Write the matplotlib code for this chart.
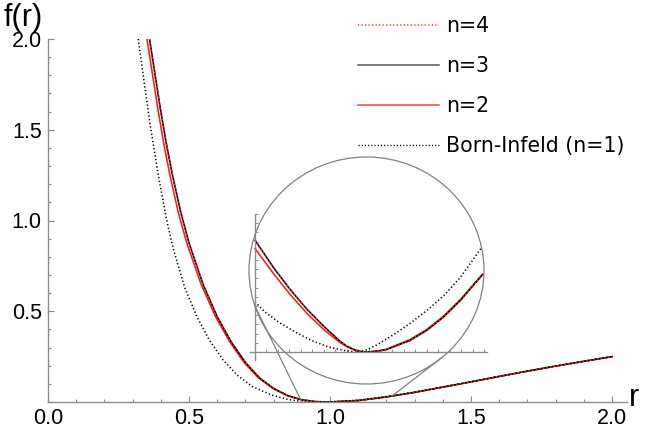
import numpy as np
import matplotlib.pyplot as plt
from matplotlib.patches import Ellipse, ConnectionPatch
from matplotlib.ticker import MultipleLocator

# main curves
r_bi = [0.320, 0.342, 0.362, 0.391, 0.421, 0.445, 0.485, 0.528, 0.572, 0.620, 0.670,
        0.725, 0.790, 0.850, 0.900, 0.960, 1.000, 1.100, 1.200, 1.300, 1.400, 1.500,
        1.600, 1.700, 1.800, 1.900, 2.000]
f_bi = [2.00, 1.75, 1.53, 1.25, 1.00, 0.84, 0.63, 0.47, 0.341, 0.233, 0.149,
        0.085, 0.040, 0.014, 0.003, 0.0, 0.001, 0.010, 0.030, 0.055, 0.083, 0.112,
        0.141, 0.170, 0.198, 0.225, 0.250]

r_n2 = [0.351, 0.371, 0.391, 0.411, 0.431, 0.461, 0.492, 0.543, 0.594, 0.645, 0.695,
        0.746, 0.797, 0.848, 0.899, 0.950, 1.000, 1.100, 1.200, 1.300, 1.400, 1.500,
        1.600, 1.700, 1.800, 1.900, 2.000]
f_n2 = [2.00, 1.80, 1.60, 1.42, 1.26, 1.05, 0.876, 0.648, 0.470, 0.330, 0.218,
        0.133, 0.075, 0.035, 0.012, 0.002, 0.0, 0.008, 0.028, 0.053, 0.082, 0.111,
        0.141, 0.170, 0.198, 0.224, 0.250]

r_n3 = [0.360, 0.380, 0.400, 0.420, 0.440, 0.470, 0.500, 0.550, 0.600, 0.650, 0.700,
        0.750, 0.800, 0.850, 0.900, 0.950, 1.000, 1.100, 1.200, 1.300, 1.400, 1.500,
        1.600, 1.700, 1.800, 1.900, 2.000]
f_n3 = [2.00, 1.80, 1.60, 1.42, 1.26, 1.05, 0.876, 0.648, 0.470, 0.330, 0.218,
        0.133, 0.075, 0.035, 0.012, 0.002, 0.0, 0.008, 0.028, 0.053, 0.082, 0.111,
        0.141, 0.170, 0.198, 0.224, 0.250]

# n=4 lies on top of n=3 at this scale
r_n4 = r_n3
f_n4 = f_n3

# magnified view around the minimum
zr_bi = [0.850, 0.863, 0.881, 0.902, 0.924, 0.946, 0.968, 0.981, 0.994, 1.009,
         1.031, 1.053, 1.075, 1.097, 1.119, 1.146]
zf_bi = [0.0109, 0.0087, 0.0065, 0.0044, 0.0025, 0.0011, 0.0003, 0.0, 0.0003, 0.0015,
         0.0037, 0.0062, 0.0090, 0.0122, 0.0162, 0.0225]

zr_n2 = [0.850, 0.874, 0.896, 0.918, 0.940, 0.961, 0.970, 0.979, 0.985, 0.992, 1.001,
         1.014, 1.022, 1.031, 1.053, 1.075, 1.097, 1.119, 1.148]
zf_n2 = [0.0225, 0.0171, 0.0125, 0.0084, 0.0049, 0.0021, 0.0012, 0.0005, 0.0002, 0.0,
         0.00005, 0.0003, 0.0006, 0.0012, 0.0027, 0.0049, 0.0078, 0.0114, 0.0169]

zr_n3 = [0.850, 0.874, 0.896, 0.918, 0.940, 0.961, 0.970, 0.979, 0.985, 0.992, 1.001,
         1.014, 1.022, 1.031, 1.053, 1.075, 1.097, 1.119, 1.148]
zf_n3 = [0.0243, 0.0184, 0.0136, 0.0093, 0.0056, 0.0024, 0.0013, 0.0006, 0.0002, 0.0,
         0.00004, 0.0003, 0.0005, 0.0011, 0.0025, 0.0047, 0.0076, 0.0112, 0.0168]

labels = ["n=4", "n=3", "n=2", "Born-Infeld (n=1)"]

W, H = 649, 437
fig = plt.figure(figsize=(W / 100, H / 100), dpi=100)
ax = fig.add_axes([48 / W, (H - 402) / H, (627 - 48) / W, (402 - 39) / H])

dot = (0.8, 1.5)
axis_col = '#8c8c8c'

ax.plot(r_bi, f_bi, color='black', lw=1.15, dashes=dot)
ax.plot(r_n2, f_n2, color='#ff1a1a', lw=1.15)
ax.plot(r_n3, f_n3, color='black', lw=1.15)
ax.plot(r_n4, f_n4, color='#ff3030', lw=1.15, dashes=dot)

ax.set_xlim(0, 2.053)
ax.set_ylim(0, 2.0)
for s in ['top', 'right']:
    ax.spines[s].set_visible(False)
for s in ['left', 'bottom']:
    ax.spines[s].set_color(axis_col)
    ax.spines[s].set_linewidth(1.0)
ax.set_xticks([0, 0.5, 1.0, 1.5, 2.0])
ax.set_yticks([0.5, 1.0, 1.5, 2.0])
ax.set_xticklabels(['0.0', '0.5', '1.0', '1.5', '2.0'])
ax.set_yticklabels(['0.5', '1.0', '1.5', '2.0'])
ax.xaxis.set_minor_locator(MultipleLocator(0.1))
ax.yaxis.set_minor_locator(MultipleLocator(0.1))
ax.tick_params(which='both', direction='in', color=axis_col, width=0.8)
ax.tick_params(which='major', length=4.5, pad=4.5, labelsize=15.5)
ax.tick_params(which='minor', length=2.5)
for lab in ax.get_xticklabels() + ax.get_yticklabels():
    lab.set_family('Liberation Sans')

fig.text(23 / W, 1 - 18 / H, 'f(r)', ha='center', va='center', fontsize=22, family='Liberation Sans')
fig.text(634 / W, 1 - 398 / H, 'r', ha='center', va='center', fontsize=22, family='Liberation Sans')

# legend
h4, = ax.plot([], [], color='#ff3030', lw=1.1, dashes=dot)
h3, = ax.plot([], [], color='#555555', lw=1.1)
h2, = ax.plot([], [], color='#ff4040', lw=1.1)
h1, = ax.plot([], [], color='black', lw=1.0, dashes=dot)
fig.legend([h4, h3, h2, h1], labels, loc='upper left', bbox_to_anchor=(358 / W, 1 - 16 / H),
           frameon=False, handlelength=3.93, handletextpad=0.34, borderaxespad=0,
           labelspacing=0.98, borderpad=0, prop={'family': 'DejaVu Sans', 'size': 14.8})

# magnifier circle
cx, cy, a, b = 3.665, (H - 270.5) / 100, 1.175, 1.135
fig.add_artist(Ellipse((cx, cy), 2 * a, 2 * b, transform=fig.dpi_scale_trans,
                       fill=False, ec='#808080', lw=0.9))

# inset axes
z0 = 0.85
sx, sy = 763.3, 4600.0
axz = fig.add_axes([250 / W, (H - 360) / H, 237 / W, 146 / H])
axz.patch.set_visible(False)
axz.plot(zr_bi, zf_bi, color='black', lw=1.15, dashes=dot)
axz.plot(zr_n2, zf_n2, color='#ff1a1a', lw=1.15)
axz.plot(zr_n3, zf_n3, color='black', lw=1.15)
axz.plot(zr_n3, zf_n3, color='#ff3030', lw=1.15, dashes=dot)
axz.set_xlim(z0 - 5 / sx, z0 + 232 / sx)
axz.set_ylim(-8 / sy, 138 / sy)
for s in ['top', 'right']:
    axz.spines[s].set_visible(False)
axz.spines['left'].set_position(('data', z0))
axz.spines['bottom'].set_position(('data', 0))
for s in ['left', 'bottom']:
    axz.spines[s].set_color(axis_col)
    axz.spines[s].set_linewidth(1.0)
axz.set_xticks(np.arange(21) * 0.015 + z0)
axz.set_yticks(np.arange(16) * 0.002)
axz.tick_params(direction='in', length=2.5, color=axis_col, width=0.7,
                labelbottom=False, labelleft=False)

# connector lines
for (px, py), t in [((0.90, 0.0), 198), ((1.22, 0.033), -50)]:
    ex = cx + a * np.cos(np.radians(t))
    ey = cy + b * np.sin(np.radians(t))
    fig.add_artist(ConnectionPatch(xyA=(px, py), coordsA=ax.transData,
                                   xyB=(ex, ey), coordsB=fig.dpi_scale_trans,
                                   color='#808080', lw=0.9))

fig.savefig('out.png', dpi=100)
